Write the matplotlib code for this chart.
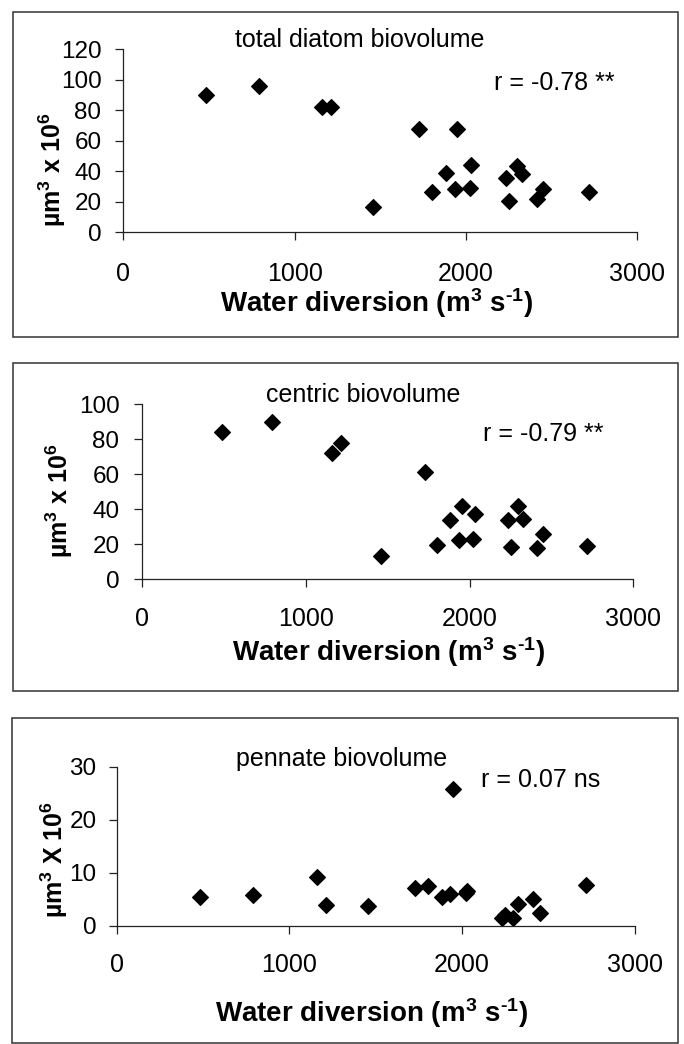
import matplotlib
matplotlib.use("Agg")
import matplotlib.pyplot as plt
from matplotlib.patches import Rectangle

plt.rcParams['font.family'] = ['Liberation Sans', 'DejaVu Sans']
plt.rcParams['mathtext.fontset'] = 'custom'
plt.rcParams['mathtext.rm'] = 'Liberation Sans:bold'
plt.rcParams['mathtext.it'] = 'Liberation Sans:bold:italic'
plt.rcParams['mathtext.bf'] = 'Liberation Sans:bold'

# ---- data ----
water_diversion = [484, 790, 1158, 1214, 1458, 1725, 1800, 1882, 1933, 1950,
                   2022, 2030, 2232, 2250, 2298, 2325, 2413, 2450, 2716]
total_biovolume = [90, 96, 82, 82.5, 17, 68, 26.5, 39, 28.5, 68,
                   29, 44, 35.5, 20.5, 43.5, 38.5, 22, 28.5, 26.5]
centric_biovolume = [84, 90, 72, 78, 13, 61, 19.5, 34, 22.5, 42,
                     23, 37, 34, 18.5, 42, 34.5, 18, 26, 19]
pennate_biovolume = [5.5, 5.8, 9.2, 4.0, 3.8, 7.2, 7.6, 5.4, 6.1, 25.8,
                     6.3, 6.6, 1.6, 2.0, 1.5, 4.2, 5.0, 2.5, 7.8]

panel_titles = ["total diatom biovolume", "centric biovolume", "pennate biovolume"]
r_labels = ["r = -0.78 **", "r = -0.79 **", "r = 0.07 ns"]
y_labels = [r"µm$^{3}$ x 10$^{6}$", r"µm$^{3}$ x 10$^{6}$", r"µm$^{3}$ X 10$^{6}$"]
x_label = r"Water diversion (m$^{3}$ s$^{\text{-}1}$)"
x_ticks = [0, 1000, 2000, 3000]
y_ticks_list = [[0, 20, 40, 60, 80, 100, 120], [0, 20, 40, 60, 80, 100], [0, 10, 20, 30]]

W, H = 684, 1044
fig = plt.figure(figsize=(W / 100, H / 100), dpi=100)


def fx(x):
    return x / W


def fy(y):
    return 1 - y / H


# layout in pixels
axes_px = [  # left, right, top, bottom
    (123.4, 637.3, 49.3, 232.5),
    (142.3, 633.4, 404.3, 579.0),
    (116.7, 634.7, 766.7, 926.0),
]
frames_px = [(13, 12, 678, 337), (13, 363, 678, 691), (12, 718, 678, 1043)]
title_px = [(360, 47), (363, 402), (342, 766)]
r_px = [(494, 90), (483, 441), (481, 787)]
ylab_px = [(52, 170), (59, 501), (54, 859)]
xlab_px = [(376, 312), (388, 661), (371, 1022)]
xpad = [15.5, 14.5, 14.0]
ypad = [10.3, 11.0, 9.0]

series = [total_biovolume, centric_biovolume, pennate_biovolume]

for i in range(3):
    l, r, t, b = axes_px[i]
    ax = fig.add_axes([fx(l), fy(b), (r - l) / W, (b - t) / H])
    ax.plot(water_diversion, series[i], ls='none', marker='D', ms=8.2,
            color='black', mec='black', mew=0.8)
    yt = y_ticks_list[i]
    ax.set_xlim(0, 3000)
    ax.set_ylim(0, yt[-1])
    ax.set_xticks(x_ticks)
    ax.set_yticks(yt)
    for s in ['top', 'right']:
        ax.spines[s].set_visible(False)
    for s in ['left', 'bottom']:
        ax.spines[s].set_linewidth(0.9)
        ax.spines[s].set_color('#222222')
    ax.tick_params(axis='x', direction='out', length=5.5, width=0.9,
                   pad=xpad[i], labelsize=18, colors='#222222', labelcolor='black')
    ax.tick_params(axis='y', direction='out', length=5.5, width=0.9,
                   pad=ypad[i], labelsize=17.5, colors='#222222', labelcolor='black')
    ax.patch.set_alpha(0)
    for sp in ax.spines.values():
        sp.set_clip_on(False)

    fig.text(fx(title_px[i][0]), fy(title_px[i][1]), panel_titles[i],
             ha='center', va='baseline', fontsize=18)
    fig.text(fx(r_px[i][0]), fy(r_px[i][1]), r_labels[i],
             ha='left', va='baseline', fontsize=18)
    fig.text(fx(ylab_px[i][0]), fy(ylab_px[i][1]), y_labels[i],
             ha='center', va='center', rotation=90, fontsize=18, fontweight='bold')
    fig.text(fx(xlab_px[i][0]), fy(xlab_px[i][1]), x_label,
             ha='center', va='baseline', fontsize=20, fontweight='bold')

    fl, ft, fr, fb = frames_px[i]
    fig.add_artist(Rectangle((fx(fl), fy(fb)), (fr - fl) / W, (fb - ft) / H,
                             transform=fig.transFigure, fill=False,
                             edgecolor='#333333', linewidth=1.1))

fig.savefig("out.png", dpi=100)
